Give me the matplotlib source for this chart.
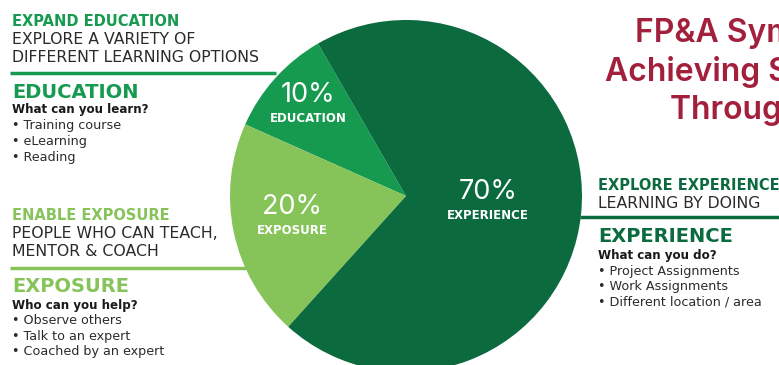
import numpy as np
import matplotlib.pyplot as plt
from matplotlib.patches import Wedge

plt.rcParams['font.family'] = ['DejaVu Sans']

# data
categories = ['EDUCATION', 'EXPOSURE', 'EXPERIENCE']
shares = [10, 20, 70]
colors = ['#159a50', '#86c45a', '#0b6b3f']
label_r = [0.75, 0.66, 0.47]

headers = ['EXPAND EDUCATION', 'ENABLE EXPOSURE', 'EXPLORE EXPERIENCE']
subtitles = [['EXPLORE A VARIETY OF', 'DIFFERENT LEARNING OPTIONS'],
             ['PEOPLE WHO CAN TEACH,', 'MENTOR & COACH'],
             ['LEARNING BY DOING']]
questions = ['What can you learn?', 'Who can you help?', 'What can you do?']
bullets = [['Training course', 'eLearning', 'Reading'],
           ['Observe others', 'Talk to an expert', 'Coached by an expert'],
           ['Project Assignments', 'Work Assignments', 'Different location / area']]
title_lines = ['FP&A Symposium', 'Achieving Success', 'Through Learning']

W, H = 779, 365
fig = plt.figure(figsize=(W / 100, H / 100), dpi=100)
ax = fig.add_axes([0, 0, 1, 1])
ax.set_xlim(0, W)
ax.set_ylim(H, 0)
ax.axis('off')

# pie (y axis inverted, so angles go clockwise on screen -> negate)
cx, cy, R = 406, 196, 176
start = 120
for val, col, cat, lr in zip(shares, colors, categories, label_r):
    span = val / sum(shares) * 360
    a0, a1 = start, start + span
    ax.add_patch(Wedge((cx, cy), R, -a1, -a0, color=col, lw=0))
    mid = np.radians(start + span / 2)
    lx = cx + lr * R * np.cos(mid)
    ly = cy - lr * R * np.sin(mid)
    ax.text(lx, ly, f'{val}%', color='white', fontsize=19.5, family='Inter',
            ha='center', va='bottom')
    ax.text(lx, ly + 4, cat, color='white', fontsize=8.5, fontweight='bold',
            ha='center', va='top')
    start = a1

# side text blocks
blocks = [
    dict(x=12, y0=21, line=(10, 276, 73), col=colors[0]),
    dict(x=12, y0=215, line=(10, 246, 268), col=colors[1]),
    dict(x=598, y0=185, line=(580, 779, 217), col=colors[2]),
]
for i, b in enumerate(blocks):
    x, y = b['x'], b['y0']
    ax.text(x, y, headers[i], color=b['col'], fontsize=10.5, fontweight='bold', va='center')
    for k, s in enumerate(subtitles[i]):
        ax.text(x, y + 18 * (k + 1), s, color='#2b2b2b', fontsize=11.3, va='center')
    lx0, lx1, ly = b['line']
    ax.plot([lx0, lx1], [ly, ly], color=b['col'], lw=2.5, solid_capstyle='butt')
    ax.text(x, ly + 19, categories[i], color=b['col'], fontsize=14, fontweight='bold', va='center')
    qy = ly + 37 if i < 2 else ly + 38
    ax.text(x, qy, questions[i], color='#1a1a1a', fontsize=8.6, fontweight='bold', va='center')
    for k, s in enumerate(bullets[i]):
        ax.text(x, qy + 16 + 15.5 * k, '\u2022 ' + s, color='#2b2b2b', fontsize=9.2, va='center')

# title
for s, (tx, ty) in zip(title_lines, [(635, 33), (605, 72), (670, 110)]):
    ax.text(tx, ty, s, color='#a3203d', fontsize=23, family='Inter',
            fontweight='semibold', va='center')

fig.savefig('out.png', dpi=100)
